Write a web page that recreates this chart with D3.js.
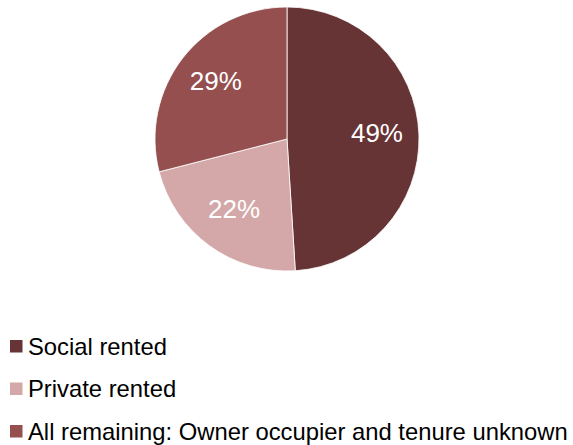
<!DOCTYPE html>
<html lang="en">
<head>
    <meta charset="UTF-8">
    <title>Tenure pie</title>
    <script src="https://cdn.jsdelivr.net/npm/d3@7"></script>
    <style>
        body { margin: 0; background: #fff; }
        text { font-family: "Liberation Sans", Arial, sans-serif; }
    </style>
</head>
<body>
<script>
    // chart data
    var categories = ["Social rented", "Private rented", "All remaining: Owner occupier and tenure unknown"];
    var shares = [49, 22, 29];
    var colours = ["#673436", "#d4a8a8", "#954f4f"];

    var w = 573, h = 445;
    var cx = 287, cy = 139, radius = 132;

    var svg = d3.select("body").append("svg")
        .attr("width", w)
        .attr("height", h);

    var pie = d3.pie().sort(null).value(function (d) { return d; });
    var arcs = pie(shares);

    var arc = d3.arc().innerRadius(0).outerRadius(radius);
    var labelArc = d3.arc().innerRadius(90).outerRadius(90);

    var g = svg.append("g").attr("transform", "translate(" + cx + "," + cy + ")");

    g.selectAll("path")
        .data(arcs)
        .enter()
        .append("path")
        .attr("d", arc)
        .attr("fill", function (d, i) { return colours[i]; })
        .attr("stroke", "#fff")
        .attr("stroke-width", 0.8);

    g.selectAll("text")
        .data(arcs)
        .enter()
        .append("text")
        .attr("transform", function (d) {
            var c = labelArc.centroid(d);
            return "translate(" + c[0] + "," + (c[1] - 3) + ")";
        })
        .attr("text-anchor", "middle")
        .attr("dominant-baseline", "central")
        .attr("fill", "#fff")
        .attr("font-size", "26px")
        .text(function (d) { return d.value + "%"; });

    // legend
    var yScale = d3.scalePoint()
        .domain(categories)
        .range([346, 431]);

    var legend = svg.selectAll("g.legend")
        .data(categories)
        .enter()
        .append("g")
        .attr("class", "legend")
        .attr("transform", function (d) { return "translate(10," + yScale(d) + ")"; });

    legend.append("rect")
        .attr("x", 0)
        .attr("y", -6)
        .attr("width", 12.5)
        .attr("height", 12.5)
        .attr("fill", function (d, i) { return colours[i]; });

    legend.append("text")
        .attr("x", 18)
        .attr("y", 8.5)
        .attr("font-size", "23.8px")
        .attr("fill", "#000")
        .text(function (d) { return d; });
</script>
</body>
</html>
